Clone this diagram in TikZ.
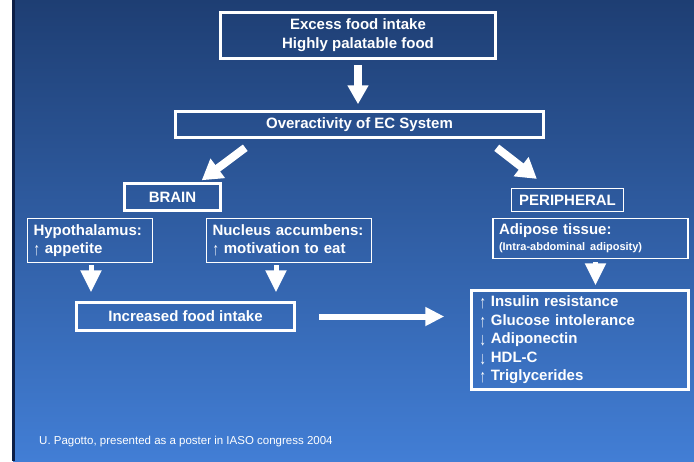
\documentclass[tikz,border=0pt]{standalone}
\usepackage{fontspec}
\usepackage{graphicx}
\setmainfont{Liberation Sans}
\usetikzlibrary{arrows.meta}
\definecolor{bgtop}{RGB}{30,62,115}
\definecolor{bgbot}{RGB}{66,126,213}
\definecolor{edgeline}{RGB}{12,30,70}
\newcommand{\uparr}{\raisebox{-2pt}{\scalebox{0.85}[1.2]{↑}}}
\newcommand{\downarr}{\raisebox{-2pt}{\scalebox{0.85}[1.2]{↓}}}

\tikzset{
  heavybox/.style={draw=white,line width=2.5pt,text=white,align=center,inner sep=2pt,
    font=\fontsize{15}{19}\selectfont\bfseries},
  lightbox/.style={draw=white,line width=1.2pt,text=white,inner sep=2pt,
    font=\fontsize{15}{18}\selectfont\bfseries},
  listbox/.style={lightbox,align=left,inner xsep=6pt},
  bigarrow/.style={white,line width=8pt,-{Triangle[length=19pt,width=20pt]}},
  slantarrow/.style={white,line width=8pt,-{Triangle[length=20pt,width=23pt]}},
  smallarrow/.style={white,line width=5pt,-{Triangle[length=22pt,width=20pt]}},
  longarrow/.style={white,line width=6pt,-{Triangle[length=19pt,width=18pt]}}
}

\begin{document}
\begin{tikzpicture}[x=1pt,y=-1pt]
  \useasboundingbox (0,0) rectangle (694,461);
  % slide background
  \fill[white] (0,0) rectangle (694,461);
  \shade[top color=bgtop,bottom color=bgbot] (13,0) rectangle (694,461);
  \fill[edgeline] (12,0) rectangle (14.5,461);

  \node [heavybox,minimum width=275pt,minimum height=46pt] (intake) at (358,35.5)
    {Excess food intake\\Highly palatable food};
  \node [heavybox,minimum width=368pt,minimum height=26pt] (ecs)   at (359.5,124.5) {Overactivity of EC System};
  \node [heavybox,minimum width=96pt,minimum height=27pt]  (brain) at (172.5,197)   {BRAIN};
  \node [lightbox,minimum width=112pt,minimum height=23pt] (peri)  at (567.5,200)   {PERIPHERAL};

  \node [listbox,text width=113pt,minimum height=44pt] (hypo) at (90,240.5)
    {Hypothalamus:\\\uparr\ appetite};
  \node [listbox,text width=153pt,minimum height=44pt] (nucleus) at (289,240.5)
    {Nucleus accumbens:\\\uparr\ motivation to eat};
  \node [listbox,text width=183pt,minimum height=40pt,font=\fontsize{15}{16}\selectfont\bfseries] (adipose) at (590.5,238.5)
    {Adipose tissue:\\{\fontsize{11}{13}\selectfont (Intra-abdominal adiposity)}};

  \node [heavybox,minimum width=218pt,minimum height=28pt] (food) at (185.5,316.5) {Increased food intake};
  \node [listbox,line width=2.5pt,inner xsep=8pt,text width=201pt,minimum height=99pt,
    font=\fontsize{15}{18.5}\selectfont\bfseries] (risk) at (580,340)
    {\uparr\ Insulin resistance\\\uparr\ Glucose intolerance\\\downarr\ Adiponectin\\\downarr\ HDL-C\\\uparr\ Triglycerides};

  \node [anchor=west,inner sep=0pt,text=white,font=\fontsize{11.5}{13}\selectfont] (credit) at (39,442)
    {U. Pagotto, presented as a poster in IASO congress 2004};

  % arrows
  \draw [bigarrow,shorten <=5pt,shorten >=6pt] (intake.south) -- (intake.south |- ecs.north);
  \draw [slantarrow] ([xshift=71pt,yshift=-9pt]ecs.south west) -- ([xshift=-20pt,yshift=2pt]brain.north east);
  \draw [slantarrow] ([xshift=-48pt,yshift=-9pt]ecs.south east) -- ([xshift=26pt,yshift=9pt]peri.north west);
  \draw [smallarrow,shorten <=2pt,shorten >=9pt] ([xshift=1pt]hypo.south) -- ([xshift=1pt]hypo.south |- food.north);
  \draw [smallarrow,shorten <=2pt,shorten >=9pt] ([xshift=-13pt]nucleus.south) -- ([xshift=-13pt]nucleus.south |- food.north);
  \draw [smallarrow,shorten <=3pt,shorten >=4pt] ([xshift=5pt]adipose.south) -- ([xshift=5pt]adipose.south |- risk.north);
  \draw [longarrow,shorten <=23pt,shorten >=26pt] (food.east) -- (food.east -| risk.west);
\end{tikzpicture}
\end{document}
